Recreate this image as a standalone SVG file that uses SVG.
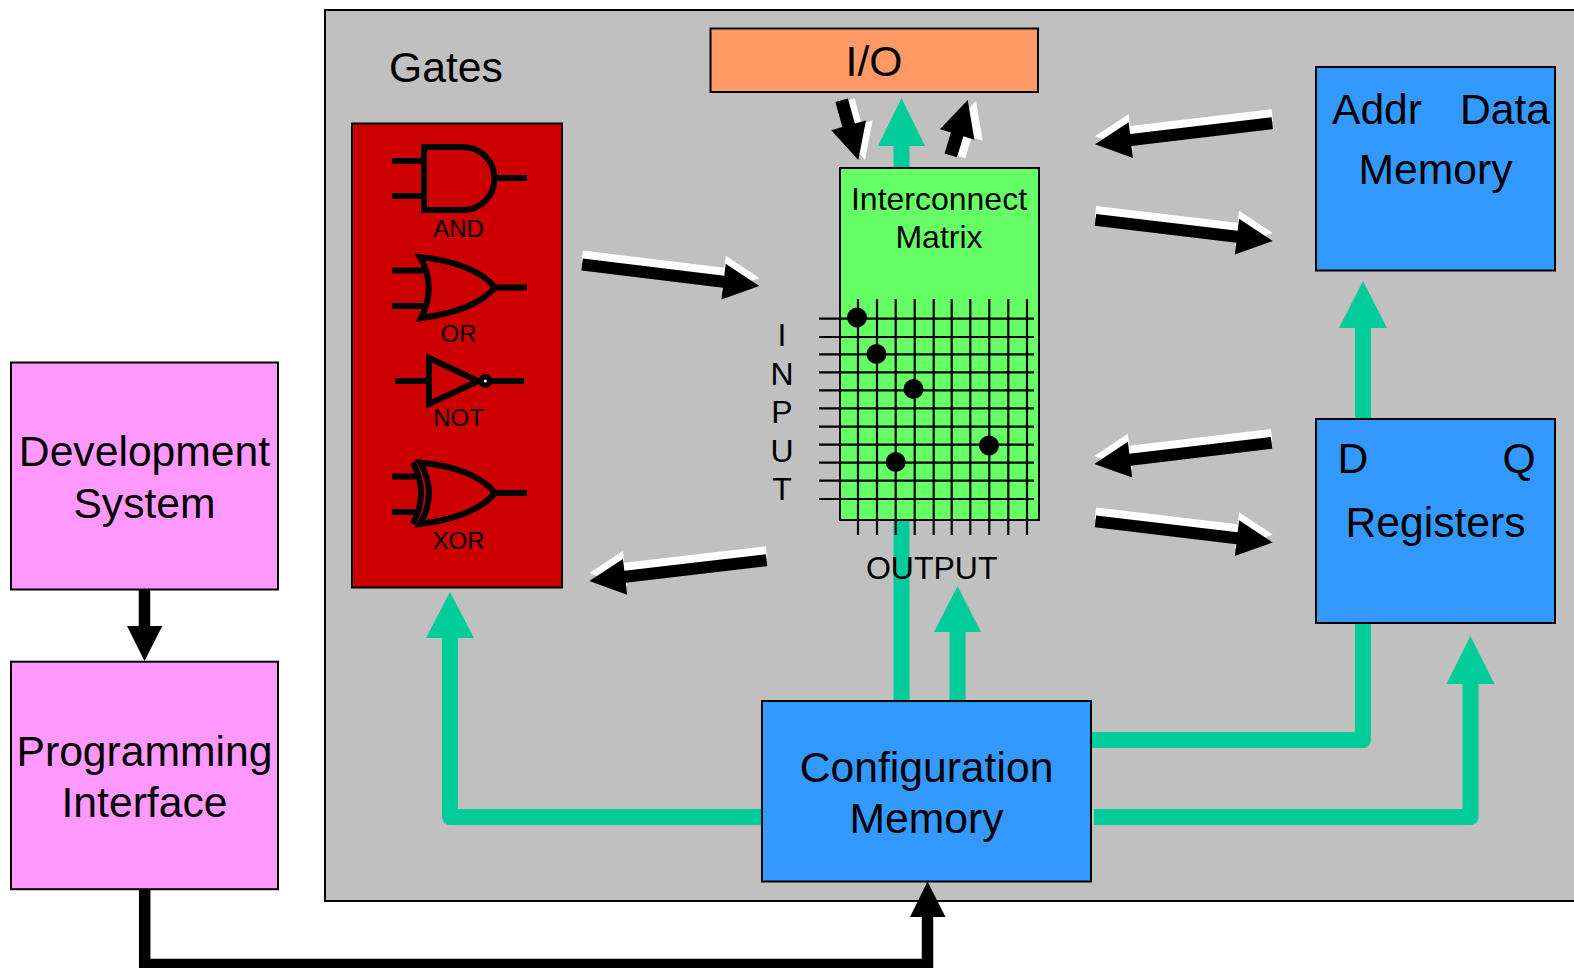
<svg xmlns="http://www.w3.org/2000/svg" width="1574" height="968" viewBox="0 0 1574 968">
<style>
text{font-family:"Liberation Sans",Arial,sans-serif;fill:#000;text-anchor:middle}
.b{stroke:#000;stroke-width:2}
.l{font-size:42.67px}
.m{font-size:32px}
.s{font-size:24px}
.t{fill:none;stroke:#00CC99;stroke-width:16;stroke-linejoin:round}
.h{fill:#00CC99}
.k{fill:none;stroke:#000;stroke-width:11.5}
.g{fill:none;stroke:#000;stroke-width:6}
.w{stroke:#000;stroke-width:2.2}
.wa{fill:#fff}
</style>
<defs>
<polygon id="arr" points="0,0 -36,-18 -36,-6 -178.500,-6 -178.500,6 -36,6 -36,18"/>
<polygon id="arrd" points="0,0 -36,18 -36,6.500 -62,6.500 -62,-6.500 -36,-6.500 -36,-18"/>
<polygon id="arru" points="0,0 -36,18 -36,6.500 -58,6.500 -58,-6.500 -36,-6.500 -36,-18"/>
</defs>
<rect id="fpga" x="325" y="10" width="1260" height="891" fill="#C0C0C0" class="b"/>
<g id="connectors">
<path class="t" d="M901.500 170V140"/><polygon class="h" points="901.500,98 925,146 878,146"/>
<path class="t" d="M901.500 515V702"/>
<path class="t" d="M957.500 701V625"/><polygon class="h" points="957.500,586 981,632 934,632"/>
<path class="t" d="M763 817H450V630"/><polygon class="h" points="450,592 474,638 426,638"/>
<path class="t" d="M1091 740H1363V620"/>
<path class="t" d="M1363 420V320"/><polygon class="h" points="1363,281 1387,328 1339,328"/>
<path class="t" d="M1094 817H1470.500V675"/><polygon class="h" points="1470.500,636 1494.500,684 1446.500,684"/>
<path class="k" d="M144.500 589V630"/><polygon points="144.500,661 127,626 162.300,626"/>
<path class="k" d="M144.700 889V964.500H927.500V910"/><polygon points="927.500,881.500 945.500,917 910,917"/>
</g>
<g id="flow-arrows">
<g id="a1"><use href="#arr" class="wa" transform="translate(759.300,278) rotate(6.900)"/><use href="#arr" transform="translate(759.300,286) rotate(6.900)"/></g>
<g id="a2"><use href="#arr" class="wa" transform="translate(589.300,573) rotate(173.300)"/><use href="#arr" transform="translate(589.300,581) rotate(173.300)"/></g>
<g id="a3"><use href="#arr" class="wa" transform="translate(1095,136.300) rotate(173.200)"/><use href="#arr" transform="translate(1095,144.300) rotate(173.200)"/></g>
<g id="a4"><use href="#arr" class="wa" transform="translate(1272.700,233) rotate(6.800)"/><use href="#arr" transform="translate(1272.700,241) rotate(6.800)"/></g>
<g id="a5"><use href="#arr" class="wa" transform="translate(1094.300,456) rotate(173.200)"/><use href="#arr" transform="translate(1094.300,464) rotate(173.200)"/></g>
<g id="a6"><use href="#arr" class="wa" transform="translate(1272.700,534.500) rotate(6.800)"/><use href="#arr" transform="translate(1272.700,542.500) rotate(6.800)"/></g>
<g id="a7"><use href="#arrd" class="wa" transform="translate(865,160) rotate(74.400)"/><use href="#arrd" transform="translate(858.300,160) rotate(74.400)"/></g>
<g id="a8"><use href="#arru" class="wa" transform="translate(976,101) rotate(-73)"/><use href="#arru" transform="translate(967.700,100) rotate(-73)"/></g>
</g>
<g id="gates">
<rect x="352" y="123.500" width="210" height="464" fill="#CC0000" class="b"/>
<g id="and"><path class="g" d="M392 161H424M392 196H424M495 178H527"/><path class="g" d="M424 147H463A31.500 31.500 0 0 1 463 210H424Z"/><text class="s" x="458.500" y="237">AND</text></g>
<g id="or"><path class="g" d="M392 270.500H426M392 306H426M495 287.500H527"/><path class="g" d="M420 257Q475 263 495 287.500Q475 311 421 318Q437 287 420 257Z"/><text class="s" x="458.500" y="342">OR</text></g>
<g id="not"><path class="g" d="M395 381H429M485 381H524"/><path class="g" d="M429 358V404L478 381Z"/><circle cx="485.300" cy="381" r="7"/><circle cx="485.300" cy="381" r="1.500" fill="#fff"/><text class="s" x="458.500" y="426">NOT</text></g>
<g id="xor"><path class="g" d="M392 476.500H420M392 512H420M495 493H527"/><path class="g" d="M412.700 462.500Q429.500 493 412.700 524"/><path class="g" d="M420 462.500Q475 468 495 493Q475 517 420 524Q438 493 420 462.500Z"/><text class="s" x="458.500" y="549">XOR</text></g>
</g>
<text class="l" x="446" y="82">Gates</text>
<g id="io"><rect x="710.500" y="28.500" width="327.500" height="63.500" fill="#FF9966" class="b"/><text class="l" x="874" y="76">I/O</text></g>
<g id="matrix">
<rect x="840" y="168" width="199" height="352" fill="#66FF66" class="b"/>
<text class="m" x="939" y="210">Interconnect</text><text class="m" x="939" y="248">Matrix</text>
<path class="w" d="M819 318.700H1034M819 337H1034M819 354.300H1034M819 372.300H1034M819 390.300H1034M819 408.300H1034M819 426.700H1034M819 444.700H1034M819 462.700H1034M819 480.700H1034M819 499H1034M858 299V535M877 299V535M895.700 299V535M914.700 299V535M933.700 299V535M951.700 299V535M970.300 299V535M989.300 299V535M1008.300 299V535M1027 299V535"/>
<circle cx="857" cy="317.500" r="10"/><circle cx="876.500" cy="354" r="10"/><circle cx="913.500" cy="389" r="10"/><circle cx="895.700" cy="462" r="10"/><circle cx="989" cy="445.500" r="10"/>
<g class="m"><text x="782" y="346">I</text><text x="782" y="385">N</text><text x="782" y="423">P</text><text x="782" y="461.500">U</text><text x="782" y="499.500">T</text><text x="931.700" y="579">OUTPUT</text></g>
</g>
<g id="memory"><rect x="1316" y="67" width="239" height="203.500" fill="#3399FF" class="b"/><text class="l" x="1377" y="124">Addr</text><text class="l" x="1505" y="124">Data</text><text class="l" x="1435.500" y="184">Memory</text></g>
<g id="registers"><rect x="1316" y="419" width="239" height="204" fill="#3399FF" class="b"/><text class="l" x="1353" y="473">D</text><text class="l" x="1519" y="473">Q</text><text class="l" x="1435.500" y="537">Registers</text></g>
<g id="config"><rect x="762" y="701" width="329" height="180.500" fill="#3399FF" class="b"/><text class="l" x="926.500" y="782">Configuration</text><text class="l" x="926.500" y="833">Memory</text></g>
<g id="dev"><rect x="11" y="362.500" width="267" height="227" fill="#FF99FF" class="b"/><text class="l" x="144.500" y="466">Development</text><text class="l" x="144.500" y="518">System</text></g>
<g id="prog"><rect x="11" y="661.700" width="267" height="227.500" fill="#FF99FF" class="b"/><text class="l" x="144.500" y="766">Programming</text><text class="l" x="144.500" y="817">Interface</text></g>
</svg>
